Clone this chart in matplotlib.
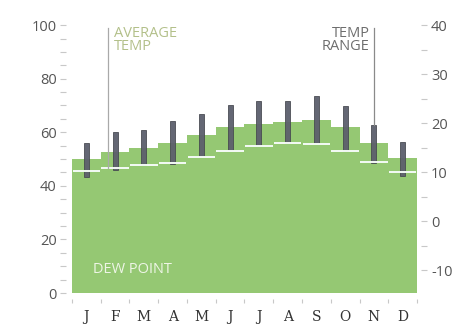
import matplotlib
matplotlib.use("Agg")
import matplotlib.pyplot as plt
import numpy as np
from matplotlib.ticker import MultipleLocator, FixedLocator, NullFormatter

plt.rcParams["axes.unicode_minus"] = False

months = ["J", "F", "M", "A", "M", "J", "J", "A", "S", "O", "N", "D"]
# dew point, left scale
dew_point = [50, 52.5, 54, 56, 59, 62, 63, 64, 64.5, 62, 56, 50.3]
# temperatures in degrees C, right scale
temp_high = [15.9, 18.1, 18.6, 20.5, 21.8, 23.7, 24.6, 24.6, 25.5, 23.5, 19.7, 16.2]
temp_low = [8.9, 10.4, 11.4, 11.6, 13.3, 14.5, 15.5, 16.0, 16.0, 14.3, 11.9, 9.2]
temp_avg = [10.3, 10.9, 11.4, 11.8, 13.0, 14.3, 15.4, 16.0, 15.8, 14.3, 12.1, 10.1]

GREEN = "#95c873"
BAR = "#5c5f6c"
TICK = "#c8c8c8"
LABEL = "#555555"

fig = plt.figure(figsize=(4.57, 3.26), dpi=100)
ax = fig.add_axes([0.1575, 0.101, 0.755, 0.822])
ax2 = ax.twinx()

n = len(months)
edges = np.arange(n)
centers = edges + 0.5

ax.bar(edges, dew_point, width=1.0, align="edge", color=GREEN, linewidth=0)
ax.set_xlim(0, n)
ax.set_ylim(0, 100)
ax2.set_ylim(-14.7, 40)

lows = np.array(temp_low)
highs = np.array(temp_high)
ax2.bar(centers, highs - lows, bottom=lows, width=0.17, color=BAR,
        edgecolor="#45474f", linewidth=0.6, alpha=0.95)
ax2.hlines(temp_avg, edges + 0.02, edges + 0.98, color="#f4fbf6", linewidth=1.4)

# callout lines
ax2.plot([1.24, 1.24], [temp_avg[1], 39.4], color="#a9a9a9", linewidth=0.9)
ax2.plot([10.5, 10.5], [temp_high[10], 39.4], color="#8a8a8a", linewidth=0.9)

ax2.text(1.45, 39.9, "AVERAGE\nTEMP", color="#b3c08a", fontsize=10.5,
         va="top", ha="left", linespacing=0.9, family="Open Sans")
ax2.text(10.35, 39.9, "TEMP\nRANGE", color="#6e6e6e", fontsize=10.5,
         va="top", ha="right", linespacing=0.9, family="Open Sans")
ax.text(0.72, 8.7, "DEW POINT", color="#eef5e6", fontsize=10.5,
        va="center", ha="left", family="Open Sans")

for a in (ax, ax2):
    for side in a.spines.values():
        side.set_color("none")

ax.spines["left"].set_position(("outward", 4))
ax2.spines["right"].set_position(("outward", 3))
ax.spines["bottom"].set_position(("outward", 4))

ax.yaxis.set_major_locator(MultipleLocator(20))
ax.yaxis.set_minor_locator(MultipleLocator(5))
ax2.yaxis.set_major_locator(FixedLocator([-10, 0, 10, 20, 30, 40]))
ax2.yaxis.set_minor_locator(FixedLocator([-15, -5, 5, 15, 25, 35]))

ax.set_xticks(centers)
ax.set_xticklabels(months, family="DejaVu Serif", fontsize=10, color="#333333")
ax.xaxis.set_minor_locator(FixedLocator(np.arange(n + 1)))
ax.xaxis.set_minor_formatter(NullFormatter())
ax.tick_params(axis="x", which="major", length=0, pad=8)
ax.tick_params(axis="x", which="minor", length=3, width=0.8, color=TICK)

ax.tick_params(axis="y", which="both", length=4, width=0.8, color=TICK,
               labelsize=10.5, labelcolor=LABEL, pad=3)
ax2.tick_params(axis="y", which="both", length=4, width=0.8, color=TICK,
                labelsize=10.5, labelcolor=LABEL, pad=3)
for lab in ax.get_yticklabels() + ax2.get_yticklabels():
    lab.set_family("Open Sans")

fig.savefig("out.png", dpi=100)
